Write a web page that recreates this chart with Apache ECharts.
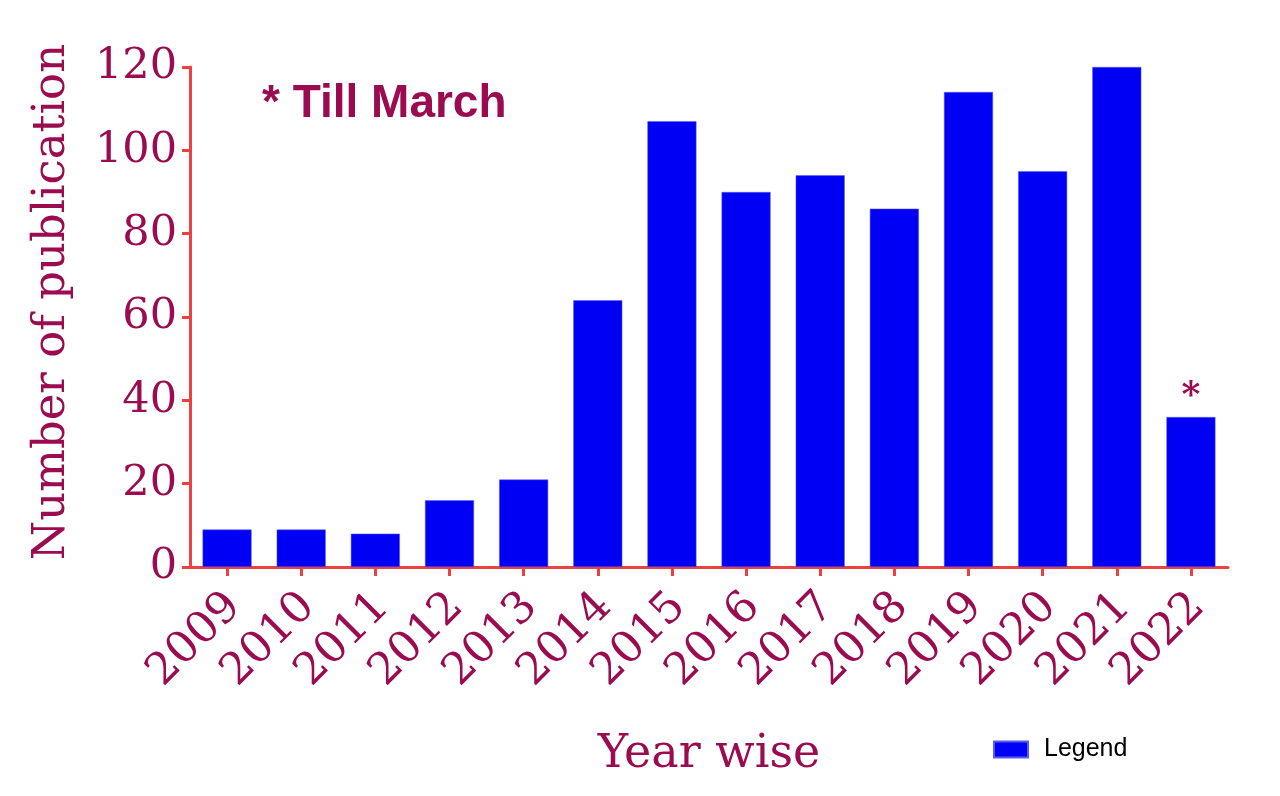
<!DOCTYPE html>
<html><head><meta charset="utf-8">
<script src="https://cdn.jsdelivr.net/npm/echarts@6/dist/echarts.min.js"></script>
<style>html,body{margin:0;padding:0;background:#fff}#c{width:1280px;height:796px}</style>
</head><body><div id="c"></div>
<script>
const years = ['2009','2010','2011','2012','2013','2014','2015','2016','2017','2018','2019','2020','2021','2022'];
const publications = [9, 9, 8, 16, 21, 64, 107, 90, 94, 86, 114, 95, 120, 36];
const yTicks = [0, 20, 40, 60, 80, 100, 120];
const seriesName = 'Legend';
const note = '* Till March';

const maroon = '#9a0c4f';
const axisRed = '#ee4040';
const chart = echarts.init(document.getElementById('c'));
chart.setOption({
  animation: false,
  backgroundColor: '#fff',
  grid: { left: 190, right: 52, top: 67, bottom: 229, containLabel: false },
  legend: {
    data: [seriesName], left: 988, top: 732, itemWidth: 34, itemHeight: 16, itemGap: 10,
    icon: 'rect',
    textStyle: { fontFamily: 'Liberation Sans', fontSize: 25, color: '#000', padding: [0, 0, 0, 11] }
  },
  graphic: [{
    type: 'text', left: 262, top: 81,
    style: { text: note, font: 'bold 46px "Liberation Sans"', fill: maroon }
  }],
  xAxis: {
    type: 'category', data: years,
    name: 'Year wise', nameLocation: 'middle', nameGap: 165,
    nameTextStyle: { fontFamily: 'DejaVu Serif', fontSize: 46, color: maroon },
    axisLine: { lineStyle: { color: axisRed, width: 3 } },
    axisTick: { show: true, alignWithLabel: true, length: 9, lineStyle: { color: axisRed, width: 3 } },
    axisLabel: { interval: 0, rotate: 45, margin: 26, verticalAlign: 'top', lineHeight: 20, fontFamily: 'DejaVu Serif', fontSize: 44, color: maroon },
    splitLine: { show: false }
  },
  yAxis: {
    type: 'value', min: yTicks[0], max: yTicks[yTicks.length - 1], interval: 20,
    name: 'Number of publication', nameLocation: 'middle', nameGap: 115, nameRotate: 90,
    nameTextStyle: { fontFamily: 'DejaVu Serif', fontSize: 45, color: maroon, padding: [0, 0, 0, 30] },
    axisLine: { show: true, lineStyle: { color: axisRed, width: 3 } },
    axisTick: { show: true, length: 8, lineStyle: { color: axisRed, width: 3 } },
    axisLabel: { margin: 13, fontFamily: 'DejaVu Serif', fontSize: 43, color: maroon },
    splitLine: { show: false }
  },
  series: [{
    name: seriesName, type: 'bar', barWidth: 49,
    itemStyle: { color: '#0000f5', borderColor: '#5a5af0', borderWidth: 0.5 },
    data: publications.map((v, i) => i === publications.length - 1
      ? { value: v, label: { show: true, position: 'top', distance: 2, formatter: '*', fontFamily: 'DejaVu Serif', fontWeight: 'bold', fontSize: 36, color: maroon } }
      : v)
  }]
});
</script></body></html>
